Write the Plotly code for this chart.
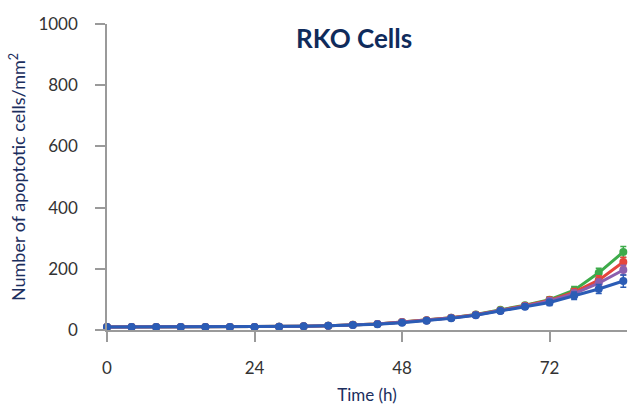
import plotly.graph_objects as go

# Sampling times (h)
hours = [0, 4, 8, 12, 16, 20, 24, 28, 32, 36, 40, 44, 48, 52, 56, 60, 64, 68, 72, 76, 80, 84]

# Apoptotic cells per mm^2 for each treatment
green_vals = [10, 10, 10, 10, 10, 10, 10, 11, 12, 14, 17, 20, 26, 32, 40, 51, 66, 81, 99, 130, 187, 255]
red_vals = [10, 10, 10, 10, 10, 10, 10, 11, 12, 14, 17, 20, 26, 32, 40, 50, 64, 79, 97, 124, 163, 222]
purple_vals = [10, 10, 10, 10, 10, 10, 10, 11, 12, 14, 16, 20, 25, 31, 39, 49, 63, 78, 95, 119, 153, 196]
blue_vals = [10, 10, 10, 10, 10, 10, 10, 11, 12, 14, 16, 19, 24, 30, 38, 48, 62, 76, 90, 112, 134, 160]

# Standard deviations
green_err = [2, 2, 2, 2, 2, 2, 2, 2, 2, 3, 3, 3, 4, 4, 5, 6, 7, 8, 10, 12, 15, 18]
red_err = [2, 2, 2, 2, 2, 2, 2, 2, 2, 3, 3, 3, 4, 4, 5, 6, 7, 8, 10, 12, 14, 16]
purple_err = [2, 2, 2, 2, 2, 2, 2, 2, 2, 3, 3, 3, 4, 4, 5, 6, 7, 8, 10, 12, 14, 16]
blue_err = [2, 2, 2, 2, 2, 2, 2, 2, 2, 3, 3, 3, 4, 4, 5, 6, 7, 8, 10, 12, 15, 20]

series = [
    ("green", green_vals, green_err, "#3dab4a"),
    ("red", red_vals, red_err, "#e5453b"),
    ("purple", purple_vals, purple_err, "#8b5fae"),
    ("blue", blue_vals, blue_err, "#2b5cb5"),
]

fig = go.Figure()
for name, vals, err, col in series:
    fig.add_trace(go.Scatter(
        x=hours, y=vals, name=name, mode="lines+markers",
        line=dict(color=col, width=3),
        marker=dict(color=col, size=8, symbol="circle"),
        error_y=dict(type="data", array=err, color=col, thickness=1.5, width=3),
        cliponaxis=False,
    ))

tick_font = dict(family="Lato, Open Sans, sans-serif", size=17, color="#333333")
navy = "#1b2e5e"

fig.update_layout(
    width=629, height=405,
    margin=dict(l=107, r=2, t=24, b=75),
    paper_bgcolor="white", plot_bgcolor="white",
    showlegend=False,
    title=dict(
        text="<b>RKO Cells</b>", x=0.563, xanchor="center", y=0.905, yanchor="middle",
        font=dict(family="Lato, Open Sans, sans-serif", size=26, color="#0f2b5b"),
    ),
    xaxis=dict(
        range=[0, 84.6], tickvals=[0, 24, 48, 72], ticktext=["0", "24", "48", "72"],
        showline=True, linecolor="#9a9a9a", linewidth=1.5,
        ticks="outside", ticklen=10, tickcolor="#9a9a9a", tickwidth=1.5,
        ticklabelstandoff=12, automargin=False,
        showgrid=False, zeroline=False, tickfont=tick_font,
        title=dict(text="Time (h)", font=dict(family="Lato, Open Sans, sans-serif", size=17, color=navy), standoff=18),
    ),
    yaxis=dict(
        range=[0, 1000], tickvals=[0, 200, 400, 600, 800, 1000],
        showline=True, linecolor="#9a9a9a", linewidth=1.5,
        ticks="outside", ticklen=10, tickcolor="#9a9a9a", tickwidth=1.5,
        ticklabelstandoff=14,
        showgrid=False, zeroline=False, tickfont=tick_font,
        title=dict(text="Number of apoptotic cells/mm<sup>2</sup>", font=dict(family="Lato, Open Sans, sans-serif", size=18, color=navy), standoff=8),
    ),
)

fig.write_html("out.html")
